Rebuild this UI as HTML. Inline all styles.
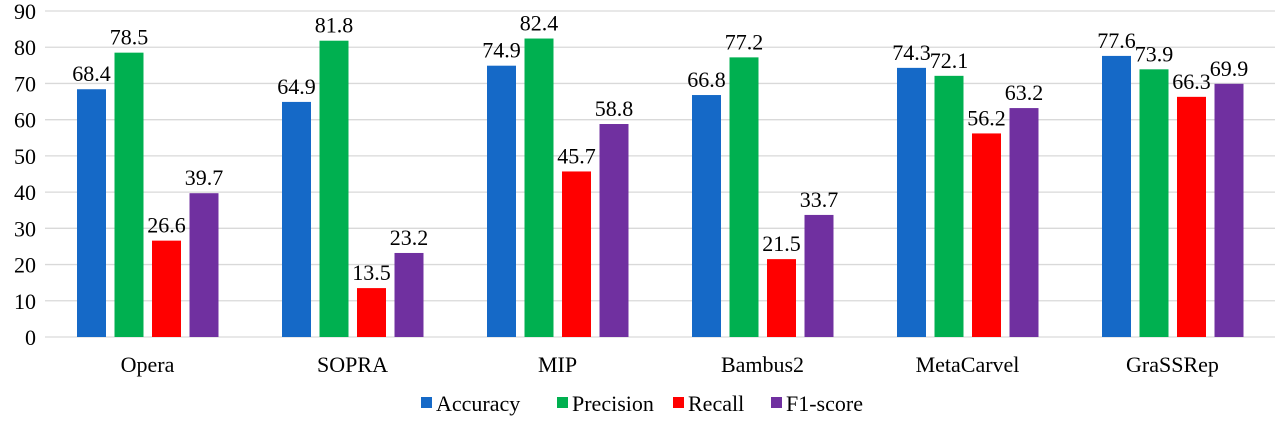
<!DOCTYPE html>
<html><head><meta charset="utf-8"><style>
body{margin:0;background:#fff;}
svg text{font-family:"Liberation Serif","Times New Roman",serif !important;fill:#000;}
</style></head><body>
<svg id="chart" width="1280" height="417" xmlns="http://www.w3.org/2000/svg" font-family="Liberation Serif, serif">
<g id="grid"></g><g id="bars"></g><g id="labels"></g>
<g>
<rect x="421" y="397" width="11" height="11" fill="#1569C7"/><text x="436" y="411" font-size="22" style="font-family:'Liberation Serif',serif">Accuracy</text>
<rect x="557" y="397" width="11" height="11" fill="#00B050"/><text x="572" y="411" font-size="22" style="font-family:'Liberation Serif',serif">Precision</text>
<rect x="673" y="397" width="11" height="11" fill="#FF0000"/><text x="688" y="411" font-size="22" style="font-family:'Liberation Serif',serif">Recall</text>
<rect x="771" y="397" width="11" height="11" fill="#7030A0"/><text x="786" y="411" font-size="22" style="font-family:'Liberation Serif',serif">F1-score</text>
</g>
</svg>
<script>
const categories=["Opera","SOPRA","MIP","Bambus2","MetaCarvel","GraSSRep"];
const accuracy=[68.4,64.9,74.9,66.8,74.3,77.6];
const precision=[78.5,81.8,82.4,77.2,72.1,73.9];
const recall=[26.6,13.5,45.7,21.5,56.2,66.3];
const f1score=[39.7,23.2,58.8,33.7,63.2,69.9];
const yTicks=[0,10,20,30,40,50,60,70,80,90];
const series=[accuracy,precision,recall,f1score];
const colors=["#1569C7","#00B050","#FF0000","#7030A0"];
const names=["accuracy","precision","recall","f1-score"];
const NS="http://www.w3.org/2000/svg";
const x0=45,x1=1275,y0=337,yTop=11;
const y=v=>y0-(v/90)*(y0-yTop);
const bw=(x1-x0)/categories.length;
const cx=i=>x0+bw*(i+0.5);
const FF="font-family:'Liberation Serif',serif";
function mk(t,a,p){const e=document.createElementNS(NS,t);for(const k in a)e.setAttribute(k,a[k]);p.appendChild(e);return e;}
const grid=document.getElementById('grid'),bars=document.getElementById('bars'),labels=document.getElementById('labels');
yTicks.forEach(t=>{
 const l=mk('line',{x1:x0,x2:x1,y1:y(t),y2:y(t),stroke:'#d9d9d9','stroke-width':1.3},grid);
 
 
 const tx=mk('text',{x:36,y:y(t)+8,'font-size':22,'text-anchor':'end',style:FF},grid);
 tx.textContent=t;
 
 
});
categories.forEach((c,i)=>{
 const tx=mk('text',{x:cx(i),y:372,'font-size':22,'text-anchor':'middle',style:FF},labels);
 tx.textContent=c;
 
 
 series.forEach((s,j)=>{
  const bx=cx(i)-70.5+j*37.5;
  const r=mk('rect',{x:bx,y:y(s[i]),width:29,height:y0-y(s[i]),fill:colors[j]},bars);
  
  
  const v=mk('text',{x:bx+14.5,y:y(s[i])-8,'font-size':22,'text-anchor':'middle',style:FF},labels);
  v.textContent=s[i].toFixed(1);
  
  
 });
});
</script>
</body></html>
